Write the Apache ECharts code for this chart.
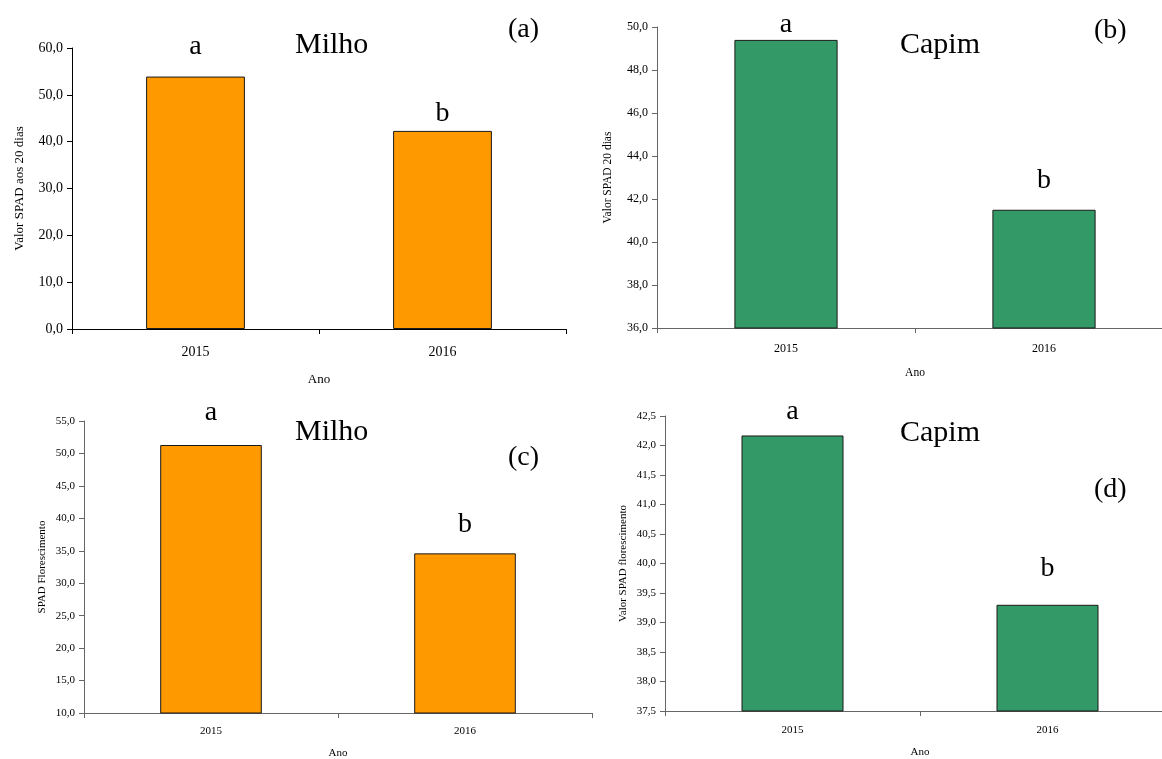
<!DOCTYPE html>
<html>
<head>
<meta charset="utf-8">
<script src="https://cdn.jsdelivr.net/npm/echarts@6.0.0/dist/echarts.min.js"></script>
<style>
html,body{margin:0;padding:0;background:#fff;}
#chart{width:1162px;height:759px;}
</style>
</head>
<body>
<div id="chart"></div>
<script>
// ---- Data ----
const years = ['2015', '2016'];
const milho20 = [53.9, 42.3];        // (a) Valor SPAD aos 20 dias - Milho
const capim20 = [49.4, 41.5];        // (b) Valor SPAD 20 dias - Capim
const milhoFlor = [51.3, 34.6];      // (c) SPAD Florescimento - Milho
const capimFlor = [42.17, 39.3];     // (d) Valor SPAD florescimento - Capim
const letters = ['a', 'b'];

const serif = 'Liberation Serif, Times New Roman, serif';
const ORANGE = '#FF9900';
const GREEN = '#339966';

const fmt = v => v.toFixed(1).replace('.', ',');

const chart = echarts.init(document.getElementById('chart'), null, {renderer: 'canvas'});

function panel(idx, cfg) {
  return {
    grid: {left: cfg.left, top: cfg.top, width: cfg.width, height: cfg.height,
           containLabel: false, outerBoundsMode: 'none'},
    xAxis: {
      type: 'category', gridIndex: idx, data: years,
      name: 'Ano', nameLocation: 'middle', nameGap: cfg.xNameGap,
      nameTextStyle: {fontFamily: serif, fontSize: cfg.nameSize, color: '#000'},
      axisLine: {lineStyle: {color: cfg.axisColor, width: 1}},
      axisTick: {show: true, inside: false, length: 5, lineStyle: {color: cfg.axisColor}},
      axisLabel: {fontFamily: serif, fontSize: cfg.xLabelSize, color: '#000', margin: cfg.xLabelMargin},
      splitLine: {show: false}
    },
    yAxis: {
      type: 'value', gridIndex: idx, min: cfg.min, max: cfg.max, interval: cfg.interval,
      name: cfg.yName, nameLocation: 'middle', nameGap: cfg.yNameGap, nameRotate: 90,
      nameTextStyle: {fontFamily: serif, fontSize: cfg.nameSize, color: '#000'},
      axisLine: {show: true, lineStyle: {color: cfg.axisColor, width: 1}},
      axisTick: {show: true, inside: false, length: 5, lineStyle: {color: cfg.axisColor}},
      axisLabel: {fontFamily: serif, fontSize: cfg.yLabelSize, color: '#000', margin: 9, formatter: fmt},
      splitLine: {show: false}
    },
    series: {
      type: 'bar', xAxisIndex: idx, yAxisIndex: idx, barCategoryGap: '60%',
      data: cfg.values.map((v, i) => ({
        value: v,
        label: {show: true, position: 'top', distance: cfg.letterDist[i], formatter: letters[i],
                fontFamily: serif, fontSize: 28, color: '#000'}
      })),
      itemStyle: {color: cfg.color, borderColor: '#1a1a1a', borderWidth: 1},
      silent: true, animation: false
    }
  };
}

const panels = [
  panel(0, {left: 72, top: 48, width: 494, height: 281, min: 0, max: 60, interval: 10,
    yName: 'Valor SPAD aos 20 dias', yNameGap: 46, xNameGap: 44, nameSize: 13,
    xLabelSize: 14, yLabelSize: 14, xLabelMargin: 16, axisColor: '#000',
    values: milho20, color: ORANGE, letterDist: [16, 3]}),
  panel(1, {left: 657, top: 27, width: 516, height: 301, min: 36, max: 50, interval: 2,
    yName: 'Valor SPAD 20 dias', yNameGap: 43, xNameGap: 39, nameSize: 11.5,
    xLabelSize: 12, yLabelSize: 12, xLabelMargin: 15, axisColor: '#666',
    values: capim20, color: GREEN, letterDist: [1, 15]}),
  panel(2, {left: 84, top: 421, width: 508, height: 292, min: 10, max: 55, interval: 5,
    yName: 'SPAD Florescimento', yNameGap: 36, xNameGap: 35, nameSize: 11,
    xLabelSize: 11, yLabelSize: 11, xLabelMargin: 13, axisColor: '#666',
    values: milhoFlor, color: ORANGE, letterDist: [18, 15]}),
  panel(3, {left: 665, top: 416, width: 510, height: 295, min: 37.5, max: 42.5, interval: 0.5,
    yName: 'Valor SPAD florescimento', yNameGap: 36, xNameGap: 36, nameSize: 11,
    xLabelSize: 11, yLabelSize: 11, xLabelMargin: 14, axisColor: '#666',
    values: capimFlor, color: GREEN, letterDist: [10, 22]})
];

const textStyle = size => ({fontFamily: serif, fontSize: size, color: '#000', fontWeight: 'normal'});
const titles = [
  {text: 'Milho', left: 295, top: 30, textStyle: textStyle(30)},
  {text: '(a)', left: 508, top: 16, textStyle: textStyle(28)},
  {text: 'Capim', left: 900, top: 30, textStyle: textStyle(30)},
  {text: '(b)', left: 1094, top: 17, textStyle: textStyle(28)},
  {text: 'Milho', left: 295, top: 417, textStyle: textStyle(30)},
  {text: '(c)', left: 508, top: 444, textStyle: textStyle(28)},
  {text: 'Capim', left: 900, top: 418, textStyle: textStyle(30)},
  {text: '(d)', left: 1094, top: 476, textStyle: textStyle(28)}
];

chart.setOption({
  animation: false,
  backgroundColor: '#fff',
  title: titles.map(t => Object.assign({padding: 0}, t)),
  grid: panels.map(p => p.grid),
  xAxis: panels.map(p => p.xAxis),
  yAxis: panels.map(p => p.yAxis),
  series: panels.map(p => p.series)
});
</script>
</body>
</html>
